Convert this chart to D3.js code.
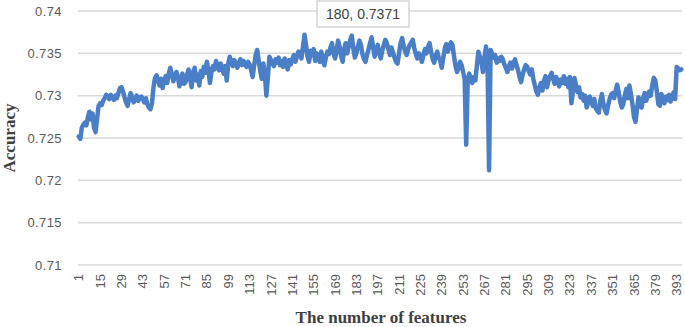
<!DOCTYPE html>
<html>
<head>
<meta charset="utf-8">
<script src="https://cdn.jsdelivr.net/npm/d3@7"></script>
<style>
  body { margin: 0; background: #fff; }
  svg { display: block; }
</style>
</head>
<body>
<svg id="chart" width="685" height="327"></svg>
<script>
// accuracy for feature count 1..396
const accuracy = [
  0.7252, 0.7249, 0.7262, 0.7266, 0.7268, 0.7265, 0.7275, 0.7281, 0.7272, 0.7279, 0.7262, 0.7257, 0.7272, 0.7288,
  0.7291, 0.7289, 0.7294, 0.7297, 0.7301, 0.7299, 0.7296, 0.7301, 0.7298, 0.7295, 0.7300, 0.7297, 0.7303, 0.7309,
  0.7310, 0.7305, 0.7298, 0.7292, 0.7288, 0.7296, 0.7303, 0.7299, 0.7292, 0.7296, 0.7300, 0.7294, 0.7297, 0.7299,
  0.7296, 0.7292, 0.7297, 0.7290, 0.7286, 0.7284, 0.7291, 0.7310, 0.7321, 0.7324, 0.7318, 0.7312, 0.7320, 0.7309,
  0.7318, 0.7323, 0.7315, 0.7326, 0.7333, 0.7325, 0.7317, 0.7323, 0.7328, 0.7322, 0.7311, 0.7320, 0.7326, 0.7314,
  0.7316, 0.7324, 0.7331, 0.7320, 0.7310, 0.7328, 0.7333, 0.7318, 0.7325, 0.7312, 0.7329, 0.7322, 0.7334, 0.7327,
  0.7340, 0.7330, 0.7315, 0.7328, 0.7335, 0.7331, 0.7341, 0.7336, 0.7330, 0.7338, 0.7333, 0.7326, 0.7335, 0.7318,
  0.7338, 0.7346, 0.7340, 0.7335, 0.7342, 0.7337, 0.7333, 0.7339, 0.7343, 0.7336, 0.7341, 0.7338, 0.7334, 0.7340,
  0.7337, 0.7330, 0.7322, 0.7336, 0.7348, 0.7354, 0.7341, 0.7329, 0.7320, 0.7338, 0.7326, 0.7300, 0.7322, 0.7346,
  0.7342, 0.7338, 0.7335, 0.7343, 0.7339, 0.7345, 0.7336, 0.7341, 0.7334, 0.7344, 0.7339, 0.7331, 0.7342, 0.7337,
  0.7343, 0.7348, 0.7340, 0.7346, 0.7352, 0.7349, 0.7344, 0.7358, 0.7372, 0.7360, 0.7346, 0.7340, 0.7353, 0.7348,
  0.7355, 0.7341, 0.7350, 0.7346, 0.7340, 0.7352, 0.7344, 0.7336, 0.7345, 0.7352, 0.7349, 0.7357, 0.7362, 0.7350,
  0.7344, 0.7352, 0.7365, 0.7358, 0.7347, 0.7340, 0.7355, 0.7362, 0.7350, 0.7358, 0.7366, 0.7371, 0.7356, 0.7345,
  0.7350, 0.7358, 0.7365, 0.7360, 0.7349, 0.7343, 0.7340, 0.7348, 0.7355, 0.7362, 0.7369, 0.7357, 0.7346, 0.7352,
  0.7360, 0.7350, 0.7344, 0.7353, 0.7360, 0.7366, 0.7362, 0.7355, 0.7348, 0.7357, 0.7351, 0.7345, 0.7340, 0.7338,
  0.7350, 0.7362, 0.7368, 0.7359, 0.7352, 0.7348, 0.7355, 0.7360, 0.7363, 0.7366, 0.7356, 0.7349, 0.7344, 0.7350,
  0.7346, 0.7340, 0.7348, 0.7355, 0.7350, 0.7358, 0.7362, 0.7352, 0.7344, 0.7339, 0.7347, 0.7352, 0.7345, 0.7341,
  0.7333, 0.7345, 0.7356, 0.7361, 0.7352, 0.7358, 0.7363, 0.7360, 0.7347, 0.7335, 0.7328, 0.7333, 0.7340, 0.7336,
  0.7328, 0.7320, 0.7242, 0.7318, 0.7326, 0.7320, 0.7315, 0.7322, 0.7318, 0.7335, 0.7352, 0.7346, 0.7340, 0.7328,
  0.7345, 0.7358, 0.7340, 0.7212, 0.7354, 0.7350, 0.7345, 0.7348, 0.7339, 0.7344, 0.7341, 0.7346, 0.7343, 0.7337,
  0.7333, 0.7328, 0.7335, 0.7339, 0.7332, 0.7338, 0.7343, 0.7336, 0.7330, 0.7322, 0.7316, 0.7325, 0.7331, 0.7336,
  0.7334, 0.7329, 0.7325, 0.7331, 0.7320, 0.7312, 0.7305, 0.7301, 0.7310, 0.7315, 0.7306, 0.7318, 0.7323, 0.7310,
  0.7318, 0.7323, 0.7327, 0.7320, 0.7314, 0.7322, 0.7317, 0.7311, 0.7319, 0.7315, 0.7323, 0.7314, 0.7320, 0.7310,
  0.7322, 0.7291, 0.7305, 0.7321, 0.7312, 0.7304, 0.7310, 0.7298, 0.7302, 0.7294, 0.7300, 0.7286, 0.7292, 0.7299,
  0.7293, 0.7288, 0.7296, 0.7285, 0.7282, 0.7280, 0.7294, 0.7302, 0.7290, 0.7283, 0.7279, 0.7288, 0.7296, 0.7301,
  0.7303, 0.7297, 0.7306, 0.7313, 0.7304, 0.7293, 0.7286, 0.7290, 0.7300, 0.7308, 0.7297, 0.7312, 0.7302, 0.7290,
  0.7275, 0.7269, 0.7284, 0.7298, 0.7291, 0.7286, 0.7297, 0.7303, 0.7294, 0.7299, 0.7305, 0.7300, 0.7312, 0.7321,
  0.7318, 0.7305, 0.7290, 0.7288, 0.7302, 0.7296, 0.7291, 0.7299, 0.7295, 0.7301, 0.7293, 0.7298, 0.7304, 0.7296,
  0.7334, 0.7332, 0.7330, 0.7331
];

// number of features on the category axis
const features = accuracy.map((v, i) => i + 1);

// labelled categories (every 14th)
const xTickLabels = [1, 15, 29, 43, 57, 71, 85, 99, 113, 127, 141, 155, 169, 183, 197, 211,
  225, 239, 253, 267, 281, 295, 309, 323, 337, 351, 365, 379, 393];
const yTicks = [0.71, 0.715, 0.72, 0.725, 0.73, 0.735, 0.74];

// highlighted point label
const callout = {feature: 180, value: 0.7371};

const svg = d3.select('#chart');
const margin = {left: 78, right: 3, top: 11, bottom: 62};
const width = 685, height = 327;

const x = d3.scalePoint()
    .domain(features)
    .range([margin.left, width - margin.right])
    .padding(0.5);

const y = d3.scaleLinear()
    .domain([0.71, 0.74])
    .range([height - margin.bottom, margin.top]);

// gridlines
svg.append('g')
    .selectAll('line')
    .data(yTicks)
    .enter().append('line')
    .attr('x1', margin.left)
    .attr('x2', width - margin.right)
    .attr('y1', d => y(d))
    .attr('y2', d => y(d))
    .attr('stroke', '#d9d9d9')
    .attr('stroke-width', 1.5);

// y tick labels
svg.append('g')
    .selectAll('text')
    .data(yTicks)
    .enter().append('text')
    .attr('x', 62)
    .attr('y', d => y(d))
    .attr('dy', '0.35em')
    .attr('text-anchor', 'end')
    .attr('font-family', 'Liberation Sans, Arial, sans-serif')
    .attr('font-size', 13)
    .attr('letter-spacing', 0.4)
    .attr('fill', '#595959')
    .text(d => d);

// x tick labels, rotated
svg.append('g')
    .selectAll('text')
    .data(xTickLabels)
    .enter().append('text')
    .attr('transform', d => `translate(${x(d)},${height - margin.bottom + 9}) rotate(-90)`)
    .attr('dy', '0.35em')
    .attr('text-anchor', 'end')
    .attr('font-family', 'Liberation Sans, Arial, sans-serif')
    .attr('font-size', 13)
    .attr('fill', '#595959')
    .text(d => d);

// the accuracy line
const line = d3.line()
    .x((d, i) => x(features[i]))
    .y(d => y(d));

svg.append('path')
    .datum(accuracy)
    .attr('fill', 'none')
    .attr('stroke', '#4a7ec6')
    .attr('stroke-width', 4.5)
    .attr('stroke-linejoin', 'round')
    .attr('stroke-linecap', 'round')
    .attr('d', line);

// callout box
const cx = 363, cy = 14;
const label = svg.append('g');
label.append('rect')
    .attr('x', cx - 46)
    .attr('y', cy - 13)
    .attr('width', 92)
    .attr('height', 26)
    .attr('fill', '#fff')
    .attr('stroke', '#bfbfbf');
label.append('text')
    .attr('x', cx)
    .attr('y', cy)
    .attr('dy', '0.35em')
    .attr('text-anchor', 'middle')
    .attr('font-family', 'Liberation Sans, Arial, sans-serif')
    .attr('font-size', 14)
    .attr('fill', '#404040')
    .text(`${callout.feature}, ${callout.value}`);

// axis titles
svg.append('text')
    .attr('x', 381)
    .attr('y', 323)
    .attr('text-anchor', 'middle')
    .attr('font-family', 'Liberation Serif, Times New Roman, serif')
    .attr('font-weight', 'bold')
    .attr('font-size', 17)
    .attr('fill', '#404040')
    .text('The number of features');

svg.append('text')
    .attr('transform', 'translate(15,138) rotate(-90)')
    .attr('text-anchor', 'middle')
    .attr('font-family', 'Liberation Serif, Times New Roman, serif')
    .attr('font-weight', 'bold')
    .attr('font-size', 17)
    .attr('fill', '#404040')
    .text('Accuracy');
</script>
</body>
</html>
